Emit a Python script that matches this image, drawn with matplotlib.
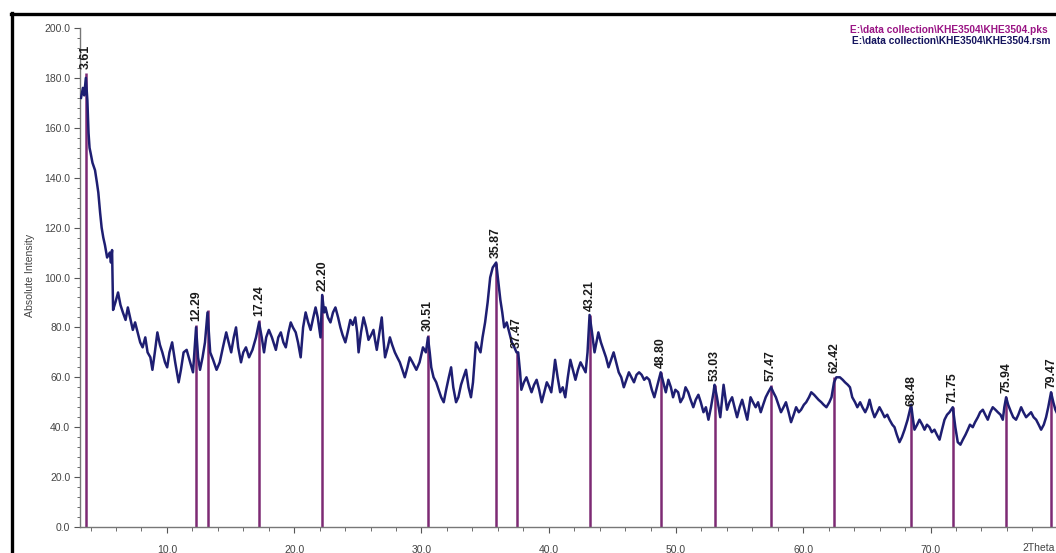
import matplotlib
matplotlib.use("Agg")
import matplotlib.pyplot as plt
from matplotlib.lines import Line2D
from matplotlib.ticker import MultipleLocator, FormatStrFormatter

# ─────────────────────────────────────────────
# XRD scan data
# ─────────────────────────────────────────────

two_theta = [
    3.25, 3.40, 3.50, 3.63, 3.75, 3.84, 3.92, 4.00, 4.15, 4.35, 4.50, 4.61, 4.75, 4.87,
    5.00, 5.13, 5.30, 5.51, 5.60, 5.69, 5.77, 5.95, 6.16, 6.35, 6.54, 6.75, 6.93, 7.10,
    7.32, 7.50, 7.70, 7.90, 8.09, 8.30, 8.48, 8.70, 8.86, 9.05, 9.25, 9.45, 9.64, 9.85,
    10.02, 10.20, 10.41, 10.65, 10.92, 11.10, 11.31, 11.55, 11.83, 12.05, 12.29, 12.45,
    12.60, 12.80, 12.99, 13.19, 13.40, 13.63, 13.90, 14.15, 14.40, 14.66, 14.85, 15.05,
    15.25, 15.43, 15.60, 15.82, 16.00, 16.21, 16.45, 16.72, 17.00, 17.24, 17.45, 17.63,
    17.80, 18.01, 18.25, 18.56, 18.75, 18.95, 19.15, 19.34, 19.55, 19.73, 19.90, 20.12,
    20.30, 20.51, 20.70, 20.90, 21.10, 21.29, 21.50, 21.68, 21.85, 22.07, 22.20, 22.35,
    22.46, 22.65, 22.85, 23.05, 23.24, 23.45, 23.63, 23.80, 24.02, 24.20, 24.41, 24.60,
    24.80, 24.95, 25.06, 25.25, 25.45, 25.65, 25.84, 26.05, 26.23, 26.35, 26.49, 26.70,
    26.88, 27.00, 27.14, 27.35, 27.52, 27.70, 27.91, 28.10, 28.30, 28.50, 28.69, 28.90,
    29.08, 29.30, 29.60, 29.85, 30.12, 30.35, 30.51, 30.65, 30.77, 30.95, 31.16, 31.35,
    31.55, 31.75, 31.94, 32.15, 32.33, 32.50, 32.72, 32.90, 33.11, 33.30, 33.50, 33.70,
    33.89, 34.05, 34.28, 34.45, 34.64, 34.80, 35.00, 35.20, 35.40, 35.60, 35.87, 36.00,
    36.20, 36.35, 36.50, 36.70, 36.90, 37.10, 37.30, 37.47, 37.60, 37.75, 37.85, 38.05,
    38.25, 38.45, 38.65, 38.85, 39.05, 39.25, 39.45, 39.65, 39.85, 40.05, 40.20, 40.35,
    40.50, 40.70, 40.90, 41.10, 41.30, 41.50, 41.70, 41.90, 42.10, 42.30, 42.50, 42.70,
    42.90, 43.05, 43.21, 43.40, 43.60, 43.75, 43.90, 44.10, 44.30, 44.50, 44.70, 44.90,
    45.10, 45.30, 45.50, 45.70, 45.90, 46.10, 46.30, 46.50, 46.70, 46.90, 47.10, 47.30,
    47.50, 47.70, 47.90, 48.10, 48.30, 48.55, 48.80, 49.00, 49.20, 49.40, 49.60, 49.77,
    49.95, 50.17, 50.35, 50.57, 50.75, 50.96, 51.15, 51.36, 51.55, 51.76, 51.95, 52.16,
    52.35, 52.55, 52.75, 52.95, 53.03, 53.22, 53.48, 53.60, 53.74, 54.01, 54.20, 54.41,
    54.60, 54.80, 55.00, 55.20, 55.40, 55.60, 55.86, 56.05, 56.26, 56.45, 56.66, 56.85,
    57.05, 57.25, 57.47, 57.65, 57.85, 58.05, 58.25, 58.45, 58.64, 58.85, 59.04, 59.25,
    59.44, 59.65, 59.83, 60.05, 60.23, 60.45, 60.63, 60.85, 61.03, 61.20, 61.42, 61.60,
    61.82, 62.05, 62.22, 62.42, 62.60, 62.88, 63.10, 63.28, 63.50, 63.67, 63.85, 64.07,
    64.25, 64.47, 64.65, 64.87, 65.05, 65.21, 65.40, 65.60, 65.80, 65.99, 66.20, 66.39,
    66.60, 66.78, 67.00, 67.17, 67.35, 67.56, 67.75, 67.96, 68.20, 68.48, 68.60, 68.74,
    68.95, 69.13, 69.35, 69.53, 69.72, 69.92, 70.10, 70.31, 70.50, 70.71, 70.90, 71.10,
    71.30, 71.49, 71.75, 71.95, 72.14, 72.35, 72.54, 72.75, 72.93, 73.10, 73.32, 73.50,
    73.72, 73.90, 74.11, 74.30, 74.50, 74.70, 74.89, 75.10, 75.29, 75.50, 75.68, 75.80,
    75.94, 76.10, 76.33, 76.50, 76.72, 76.90, 77.12, 77.30, 77.51, 77.70, 77.90, 78.10,
    78.30, 78.50, 78.69, 78.90, 79.08, 79.25, 79.47, 79.65, 79.81, 80.00,
]

intensity = [
    172, 176, 173, 180, 171, 158, 152, 150, 146, 143, 138, 134, 126, 120,
    116, 113, 108, 110, 106, 111, 87, 90, 94, 89, 86, 83, 88, 84,
    79, 82, 78, 74, 72, 76, 70, 68, 63, 70, 78, 73, 70, 66,
    64, 70, 74, 66, 58, 63, 70, 71, 66, 62, 80, 68,
    63, 68, 74, 86, 70, 67, 63, 66, 72, 78, 74, 70,
    76, 80, 72, 66, 70, 72, 68, 71, 76, 82, 76, 70,
    76, 79, 76, 71, 76, 78, 74, 72, 78, 82, 80, 78,
    74, 68, 80, 86, 82, 79, 84, 88, 84, 76, 93, 86,
    88, 84, 82, 86, 88, 84, 80, 77, 74, 78, 83, 81,
    84, 78, 70, 78, 84, 80, 75, 77, 79, 75, 71, 78,
    84, 76, 68, 72, 76, 73, 70, 68, 66, 63, 60, 64,
    68, 66, 63, 66, 72, 70, 76, 70, 64, 60, 58, 55,
    52, 50, 55, 60, 64, 56, 50, 52, 57, 60, 63, 56,
    52, 58, 74, 72, 70, 76, 82, 90, 100, 104, 106, 100,
    91, 86, 80, 82, 78, 74, 72, 70, 70, 62, 55, 58,
    60, 57, 54, 57, 59, 55, 50, 54, 58, 56, 54, 60,
    67, 60, 54, 56, 52, 60, 67, 63, 59, 63, 66, 64,
    62, 70, 85, 78, 70, 74, 78, 74, 71, 68, 64, 67,
    70, 66, 62, 60, 56, 59, 62, 60, 58, 61, 62, 61,
    59, 60, 59, 55, 52, 57, 62, 58, 54, 59, 56, 52,
    55, 54, 50, 52, 56, 54, 51, 48, 51, 53, 50, 46,
    48, 43, 48, 54, 57, 52, 44, 50, 57, 47, 50, 52,
    48, 44, 48, 51, 47, 43, 52, 50, 48, 50, 46, 49,
    52, 54, 56, 54, 52, 49, 46, 48, 50, 46, 42, 45,
    48, 46, 47, 49, 50, 52, 54, 53, 52, 51, 50, 49,
    48, 50, 52, 58, 60, 60, 59, 58, 57, 56, 52, 50,
    48, 50, 48, 46, 48, 51, 47, 44, 46, 48, 46, 44,
    45, 43, 41, 40, 37, 34, 36, 39, 43, 49, 44, 39,
    41, 43, 41, 39, 41, 40, 38, 39, 37, 35, 39, 43,
    45, 46, 48, 40, 34, 33, 35, 37, 39, 41, 40, 42,
    44, 46, 47, 45, 43, 46, 48, 47, 46, 45, 43, 48,
    52, 49, 46, 44, 43, 45, 48, 46, 44, 45, 46, 44,
    43, 41, 39, 41, 44, 48, 54, 50, 47, 45,
]

# Peak list (.pks) - stick positions, heights and labels
peak_pos = [3.61, 12.29, 13.19, 17.24, 22.20, 30.51, 35.87, 37.47, 43.21,
            48.80, 53.03, 57.47, 62.42, 68.48, 71.75, 75.94, 79.47]
peak_height = [182, 81, 87, 83, 93, 77, 106, 70, 85,
               62, 57, 57, 60, 47, 48, 52, 54]
peak_label = ["3.61", "12.29", "", "17.24", "22.20", "30.51", "35.87", "37.47", "43.21",
              "48.80", "53.03", "57.47", "62.42", "68.48", "71.75", "75.94", "79.47"]

pks_file = r"E:\data collection\KHE3504\KHE3504.pks"
rsm_file = r"E:\data collection\KHE3504\KHE3504.rsm"

CURVE_COLOR = "#1e1e72"
STICK_COLOR = "#7d2a74"
TICK_COLOR = "#555555"

plt.rcParams["font.family"] = ["Liberation Sans", "DejaVu Sans"]

# ─────────────────────────────────────────────
# Figure
# ─────────────────────────────────────────────

W, H = 1056, 553
fig = plt.figure(figsize=(W / 100, H / 100), dpi=100)
ax = fig.add_axes([80 / W, 1 - 527 / H, 1 - 80 / W, 499 / H])

# sticks first, scan drawn over them
ax.vlines(peak_pos, 0, peak_height, color=STICK_COLOR, linewidth=1.8, zorder=2)
ax.plot(two_theta, intensity, color=CURVE_COLOR, linewidth=1.8, zorder=3)

for x, h, lab in zip(peak_pos, peak_height, peak_label):
    if lab:
        ax.annotate(lab, xy=(x, h), xytext=(0, 3), textcoords="offset points",
                    rotation=90, ha="center", va="bottom", fontsize=8.8,
                    fontweight="bold", color="#1a1a1a", zorder=4)

ax.set_xlim(3.17, 79.86)
ax.set_ylim(0, 200)

# axes styling
for side in ("top", "right"):
    ax.spines[side].set_visible(False)
for side in ("left", "bottom"):
    ax.spines[side].set_color("#777777")
    ax.spines[side].set_linewidth(1.0)

ax.xaxis.set_major_locator(MultipleLocator(10))
ax.xaxis.set_minor_locator(MultipleLocator(2))
ax.xaxis.set_major_formatter(FormatStrFormatter("%.1f"))
ax.yaxis.set_major_locator(MultipleLocator(20))
ax.yaxis.set_minor_locator(MultipleLocator(4))
ax.yaxis.set_major_formatter(FormatStrFormatter("%.1f"))

ax.tick_params(axis="x", which="major", length=4, pad=9, labelsize=7.5,
               color=TICK_COLOR, labelcolor="#444444")
ax.tick_params(axis="x", which="minor", length=3, color=TICK_COLOR)
ax.tick_params(axis="y", which="major", length=4, pad=3, labelsize=7.5,
               color=TICK_COLOR, labelcolor="#444444")
ax.tick_params(axis="y", which="minor", length=2.5, color=TICK_COLOR)

# hide the 80.0 label, the axis title sits there
for lbl in ax.get_xticklabels():
    if lbl.get_text() == "80.0":
        lbl.set_visible(False)

fig.text(1022 / W, 1 - 548 / H, "2Theta", ha="left", va="center",
         fontsize=7.5, color="#444444")
fig.text(30 / W, 1 - 275 / H, "Absolute Intensity", rotation=90,
         ha="center", va="center", fontsize=7.6, color="#444444")

# file legend, top right
fig.text(1048 / W, 1 - 30 / H, pks_file, ha="right", va="center",
         fontsize=7.3, color="#9a1585", fontweight="bold")
fig.text(1050 / W, 1 - 41 / H, rsm_file, ha="right", va="center",
         fontsize=7.3, color="#14145e", fontweight="bold")

# thick black frame (left and top edges visible)
fig.add_artist(Line2D([11.5 / W, 11.5 / W], [0, 1 - 13 / H], color="black",
                      linewidth=2.4, transform=fig.transFigure))
fig.add_artist(Line2D([10.5 / W, 1], [1 - 13.5 / H, 1 - 13.5 / H], color="black",
                      linewidth=2.4, transform=fig.transFigure))

fig.savefig("out.png", dpi=100)
